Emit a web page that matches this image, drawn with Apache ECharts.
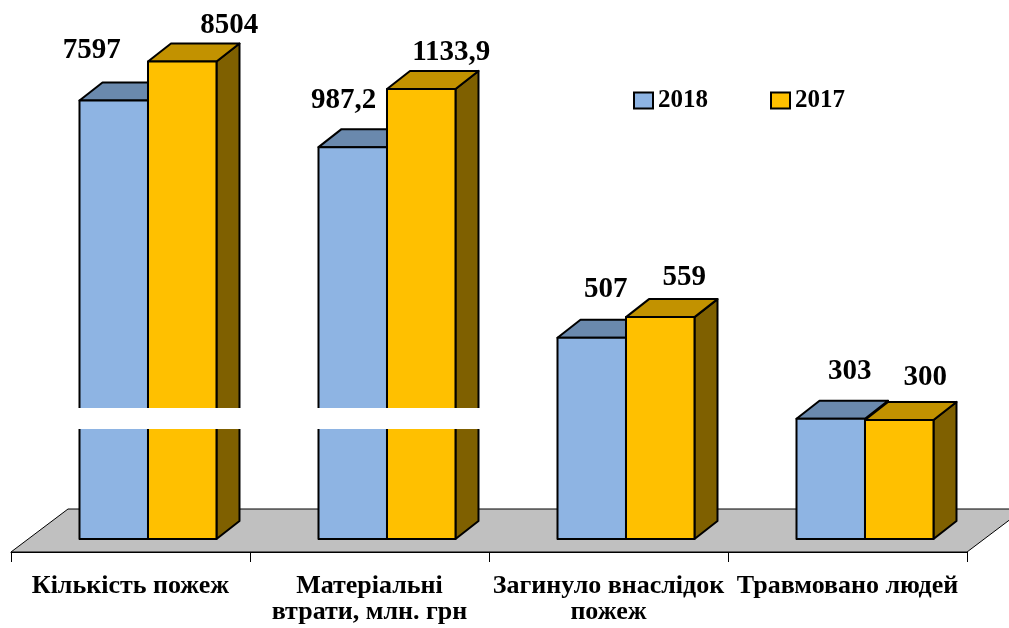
<!DOCTYPE html>
<html>
<head>
<meta charset="utf-8">
<script src="https://cdn.jsdelivr.net/npm/echarts@6/dist/echarts.min.js"></script>
<style>
html,body{margin:0;padding:0;background:#fff;}
#chart{width:1009px;height:628px;}
</style>
</head>
<body>
<div id="chart"></div>
<script>
// ---- data ----
const categories = ['Кількість пожеж', 'Матеріальні\nвтрати, млн. грн', 'Загинуло внаслідок\nпожеж', 'Травмовано людей'];
const seriesNames = ['2018', '2017'];
const values2018 = [7597, 987.2, 507, 303];
const values2017 = [8504, 1133.9, 559, 300];
// first category is drawn on its own (broken) value axis
const brokenCategories = [0, 1];

// ---- styles / layout ----
const FONT = "'Liberation Serif', 'Times New Roman', serif";
const colors = {
  '2018': { front: '#8EB4E3', top: '#6A89AD', side: '#4F6C90' },
  '2017': { front: '#FFC000', top: '#C29200', side: '#7F6000' }
};
const depthX = 23, depthY = -18;
const floorInset = 13; // bars stand 13px behind the front edge of the floor
const labelDx = { '2018': [-22, -9, 14, 19], '2017': [47, 30, 24, 26] };
const labelDy = { '2018': [-50, -47, -48, -47], '2017': [-36, -36, -40, -42] };

function fmt(v) { return String(v).replace('.', ','); }

function makeRender(name) {
  const isFirst = name === '2018';
  const col = colors[name];
  return function (params, api) {
    const idx = api.value(0);
    const v = api.value(1);
    const pt = api.coord([idx, v]);
    const band = api.size([1, 0])[0];
    const fw = band * 0.2866;
    const pairMid = pt[0] + band * 0.0732;
    const x0 = isFirst ? pairMid - fw : pairMid;
    const x1 = x0 + fw;
    const top = pt[1] - floorInset;
    const base = params.coordSys.y + params.coordSys.height - floorInset;
    const stroke = { stroke: '#000', lineWidth: 2, lineJoin: 'round' };
    const children = [
      { type: 'polygon', shape: { points: [[x1, top], [x1 + depthX, top + depthY], [x1 + depthX, base + depthY], [x1, base]] },
        style: Object.assign({ fill: col.side }, stroke) },
      { type: 'polygon', shape: { points: [[x0, top], [x0 + depthX, top + depthY], [x1 + depthX, top + depthY], [x1, top]] },
        style: Object.assign({ fill: col.top }, stroke) },
      { type: 'rect', shape: { x: x0, y: top, width: fw, height: base - top },
        style: Object.assign({ fill: col.front }, stroke) }
    ];
    if (!isFirst && brokenCategories.indexOf(idx) >= 0) {
      const bx0 = pairMid - fw - 3;
      const bx1 = pairMid + fw + depthX + 3;
      children.push({ type: 'rect', shape: { x: bx0, y: base - 131, width: bx1 - bx0, height: 21 },
        style: { fill: '#fff' } });
    }
    children.push({ type: 'text', x: x0 + fw / 2 + labelDx[name][idx], y: top + labelDy[name][idx],
      style: { text: fmt(v), fill: '#000', font: 'bold 29px ' + FONT, align: 'center', verticalAlign: 'middle' } });
    return { type: 'group', children: children };
  };
}

function seriesFor(name, values, axisIdx, cats) {
  return {
    type: 'custom',
    name: name,
    xAxisIndex: 0,
    yAxisIndex: axisIdx,
    renderItem: makeRender(name),
    itemStyle: { color: colors[name].front },
    encode: { x: 0, y: 1 },
    data: values.map((v, i) => [i, v]).filter(d => cats.indexOf(d[0]) >= 0),
    z: name === '2018' ? 2 : 3
  };
}

const chart = echarts.init(document.getElementById('chart'), null, { renderer: 'canvas' });
chart.setOption({
  animation: false,
  backgroundColor: '#fff',
  grid: { left: 11, right: 42, top: 36, bottom: 76, containLabel: false },
  legend: {
    data: seriesNames,
    left: 633, top: 88, padding: 0,
    icon: 'rect',
    itemWidth: 19, itemHeight: 16, itemGap: 62,
    itemStyle: { borderColor: '#000', borderWidth: 2 },
    textStyle: { fontFamily: FONT, fontWeight: 'bold', fontSize: 25, color: '#000' }
  },
  graphic: [{
    type: 'polygon', z: -10,
    shape: { points: [[11, 552], [68, 509], [1024, 509], [967, 552]] },
    style: { fill: '#C0C0C0', stroke: '#000', lineWidth: 1 }
  }],
  xAxis: {
    type: 'category',
    data: categories,
    z: 5,
    axisLine: { lineStyle: { color: '#000', width: 1 } },
    axisTick: { show: true, length: 10, lineStyle: { color: '#000' } },
    axisLabel: { interval: 0, margin: 21, color: '#000', fontFamily: FONT, fontWeight: 'bold', fontSize: 26, lineHeight: 26 },
    splitLine: { show: false }
  },
  yAxis: [
    { type: 'value', min: 0, max: 1300, show: false, splitLine: { show: false } },
    { type: 'value', min: -2600, max: 9400, show: false, splitLine: { show: false } }
  ],
  series: [
    seriesFor('2018', values2018, 0, [1, 2, 3]),
    seriesFor('2017', values2017, 0, [1, 2, 3]),
    seriesFor('2018', values2018, 1, [0]),
    seriesFor('2017', values2017, 1, [0])
  ]
});
</script>
</body>
</html>
